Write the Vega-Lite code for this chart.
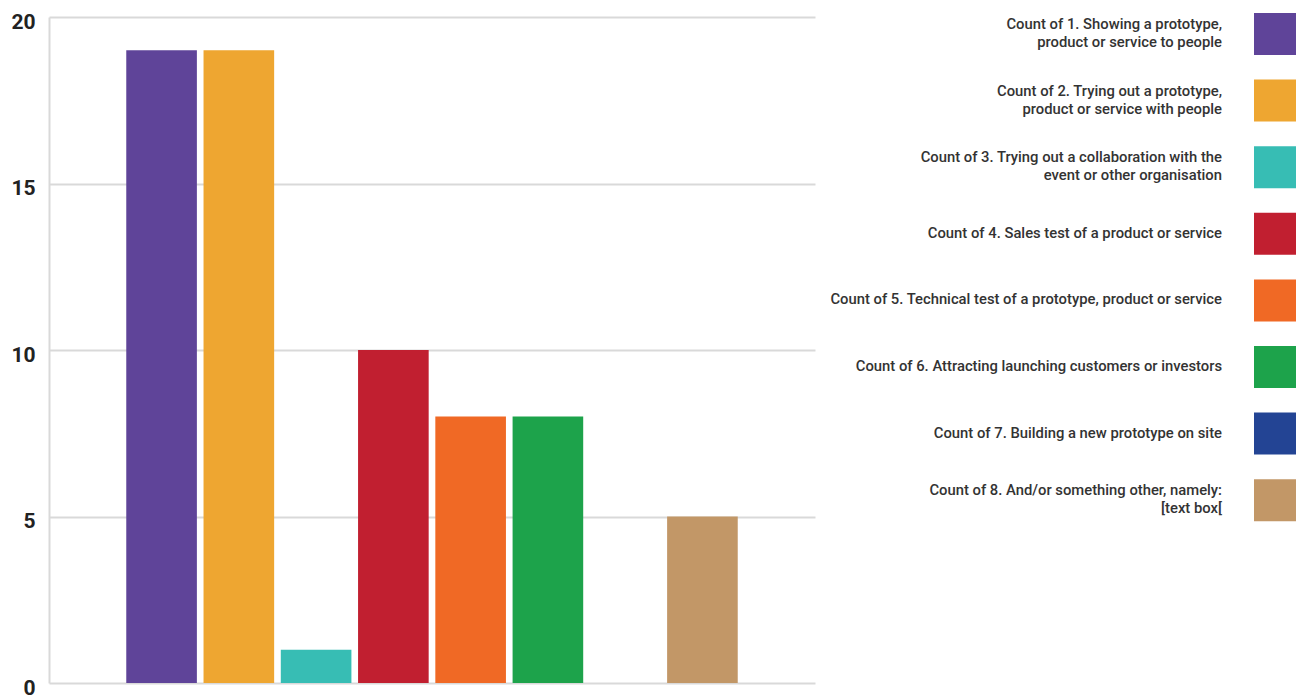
{
  "$schema": "https://vega.github.io/schema/vega-lite/v6.json",
  "width": 766,
  "height": 666,
  "autosize": "none",
  "padding": {"left": 49, "top": 17, "right": 487, "bottom": 14},
  "background": "white",
  "config": {"view": {"stroke": null}, "font": "Roboto"},
  "data": {"values": [
    {"category": "Count of 1. Showing a prototype,|product or service to people", "count": 19},
    {"category": "Count of 2. Trying out a prototype,|product or service with people", "count": 19},
    {"category": "Count of 3. Trying out a collaboration with the|event or other organisation", "count": 1},
    {"category": "Count of 4. Sales test of a product or service", "count": 10},
    {"category": "Count of 5. Technical test of a prototype, product or service", "count": 8},
    {"category": "Count of 6. Attracting launching customers or investors", "count": 8},
    {"category": "Count of 7. Building a new prototype on site", "count": 0},
    {"category": "Count of 8. And/or something other, namely:|[text box[", "count": 5}
  ]},
  "mark": {"type": "bar"},
  "encoding": {
    "x": {
      "field": "category", "type": "nominal", "sort": null,
      "scale": {"paddingInner": 0.086, "paddingOuter": 1.043},
      "axis": null
    },
    "y": {
      "field": "count", "type": "quantitative",
      "scale": {"domain": [0, 20], "nice": false},
      "axis": {
        "title": null, "values": [0, 5, 10, 15, 20], "ticks": false,
        "domainColor": "#d9d9d9", "domainWidth": 2,
        "gridColor": "#d9d9d9", "gridWidth": 2,
        "labelFont": "Roboto", "labelFontSize": 21, "labelFontWeight": "bold",
        "labelColor": "#222222", "labelPadding": 14, "labelOffset": 5
      }
    },
    "color": {
      "field": "category", "type": "nominal", "sort": null,
      "scale": {"range": ["#5f4499", "#eea631", "#37bdb4", "#c11f30", "#f06925", "#1da34b", "#234494", "#c29767"]},
      "legend": {
        "title": null, "orient": "none", "legendX": 1205, "legendY": -4,
        "padding": 0, "symbolType": "square", "symbolSize": 1764,
        "symbolStrokeWidth": 0, "symbolOpacity": 1, "rowPadding": 24.6,
        "labelAlign": "right", "labelOffset": -74, "labelFont": "Roboto",
        "labelFontSize": 14.8, "labelFontWeight": 500, "labelColor": "#333333",
        "labelLimit": 600, "labelExpr": "split(datum.label, '|')",
        "encode": {"labels": {"update": {
          "lineHeight": {"value": 18},
          "dy": {"signal": "indexof(datum.label, '|') >= 0 ? -9 : 0"}
        }}}
      }
    }
  }
}
